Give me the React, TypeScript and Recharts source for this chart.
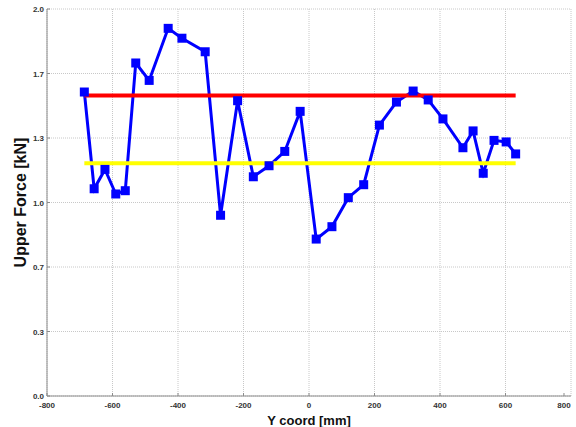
import { ComposedChart, Line, XAxis, YAxis, CartesianGrid } from 'recharts'

// positions along the beam (mm) and measured upper force (kN)
const yCoord = [-686, -656, -623, -590, -561, -529, -488, -430, -388, -317, -270, -218, -170, -122, -74, -27, 22, 70, 120, 167, 215, 267, 318, 364, 409, 470, 501, 532, 565, 602, 631]
const upperForce = [1.571, 1.071, 1.171, 1.044, 1.061, 1.721, 1.631, 1.9, 1.849, 1.779, 0.934, 1.526, 1.133, 1.19, 1.264, 1.471, 0.811, 0.875, 1.025, 1.092, 1.4, 1.519, 1.576, 1.53, 1.432, 1.283, 1.37, 1.151, 1.321, 1.313, 1.251]

const upperLimit = 1.553
const lowerLimit = 1.203

const xTicks = [-800, -600, -400, -200, 0, 200, 400, 600, 800]
const xMinorTicks = [-700, -500, -300, -100, 100, 300, 500, 700]
const yTicks = [0, 1 / 3, 2 / 3, 1, 4 / 3, 5 / 3, 2]
const yMinorTicks = [1 / 6, 1 / 2, 5 / 6, 7 / 6, 3 / 2, 11 / 6]

const forceData = yCoord.map((x, i) => ({ x, y: upperForce[i] }))
const span = [yCoord[0], yCoord[yCoord.length - 1]]
const upperData = span.map(x => ({ x, y: upperLimit }))
const lowerData = span.map(x => ({ x, y: lowerLimit }))

const font = '"Liberation Sans", Arial, sans-serif'
const axisGray = '#8c8c8c'

const SquareDot = (props: any) => {
  const { cx, cy, index } = props
  if (cx == null || cy == null) return <g key={index} />
  return <rect key={index} x={cx - 4.5} y={cy - 4.5} width={9} height={9} fill="#0000ff" />
}

const XTick = ({ x, y, payload }: any) => (
  <g>
    <line x1={x} y1={y} x2={x} y2={y - 3} stroke={axisGray} />
    <text x={x} y={y + 11.5} textAnchor="middle" fontSize={8} fontWeight="bold" fill="#333" fontFamily={font}>
      {payload.value}
    </text>
  </g>
)

const YTick = ({ x, y, payload }: any) => (
  <g>
    <line x1={x} y1={y} x2={x + 3} y2={y} stroke={axisGray} />
    <text x={x - 3} y={y + 3} textAnchor="end" fontSize={8} fontWeight="bold" fill="#333" fontFamily={font}>
      {payload.value.toFixed(1)}
    </text>
  </g>
)

const XMinorTick = ({ x, y }: any) => <line x1={x} y1={y} x2={x} y2={y - 3} stroke={axisGray} />
const YMinorTick = ({ x, y }: any) => <line x1={x} y1={y} x2={x + 3} y2={y} stroke={axisGray} />

export default function App() {
  return (
    <div style={{ width: 576, height: 427, background: '#fff', fontFamily: font }}>
      <style>{'body{margin:0}'}</style>
      <ComposedChart width={576} height={427} margin={{ top: 9, right: 5, bottom: 0, left: 0 }}>
        <CartesianGrid stroke="#c8c8c8" strokeDasharray="1 1" />
        <XAxis xAxisId="minor" type="number" dataKey="x" domain={[-800, 800]} ticks={xMinorTicks}
          height={0} axisLine={false} tickLine={false} tickSize={0} tick={<XMinorTick />} allowDataOverflow />
        <YAxis yAxisId="minor" type="number" domain={[0, 2]} ticks={yMinorTicks}
          width={0} axisLine={false} tickLine={false} tickSize={0} tick={<YMinorTick />} allowDataOverflow />
        <XAxis type="number" dataKey="x" domain={[-800, 800]} ticks={xTicks} height={31}
          axisLine={{ stroke: axisGray }} tickLine={false} tickSize={0} tickMargin={0} tick={<XTick />}
          allowDataOverflow
          label={{ value: 'Y coord [mm]', position: 'insideBottom', offset: 2, fontSize: 13, fontWeight: 'bold', fill: '#111', fontFamily: font }} />
        <YAxis type="number" dataKey="y" domain={[0, 2]} ticks={yTicks} width={47}
          axisLine={{ stroke: axisGray }} tickLine={false} tickSize={0} tickMargin={0} tick={<YTick />}
          allowDataOverflow
          label={{ value: 'Upper Force [kN]', angle: -90, position: 'insideLeft', offset: 20, style: { textAnchor: 'middle' }, fontSize: 16, fontWeight: 'bold', fill: '#111', fontFamily: font }} />
        <Line data={forceData} dataKey="y" stroke="#0000ff" strokeWidth={3} dot={SquareDot}
          activeDot={false} isAnimationActive={false} />
        <Line data={upperData} dataKey="y" stroke="#ff0000" strokeWidth={4} dot={false}
          activeDot={false} isAnimationActive={false} />
        <Line data={lowerData} dataKey="y" stroke="#ffff00" strokeWidth={4} dot={false}
          activeDot={false} isAnimationActive={false} />
      </ComposedChart>
    </div>
  )
}
